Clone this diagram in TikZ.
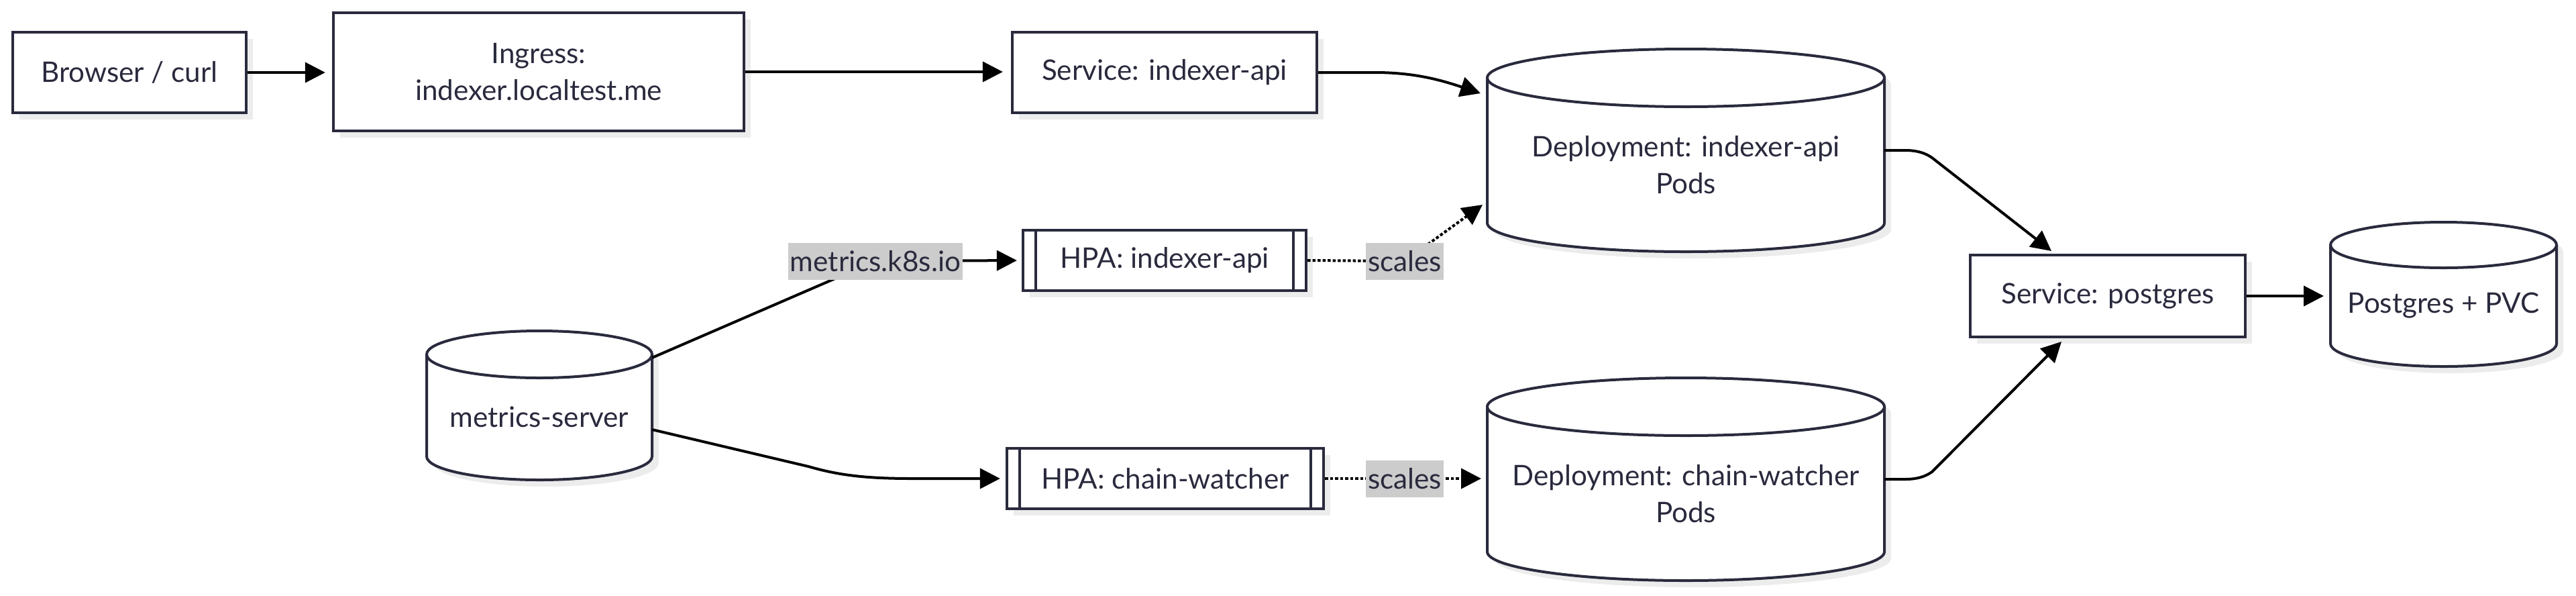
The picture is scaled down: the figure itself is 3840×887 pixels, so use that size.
\documentclass[tikz,border=0pt]{standalone}
\usepackage{fontspec}
\setmainfont{Lato}
\usetikzlibrary{arrows.meta,shadows,calc}
\definecolor{bordc}{RGB}{42,42,62}
\definecolor{txtc}{RGB}{42,42,62}
\definecolor{shadc}{RGB}{236,236,236}
\definecolor{labc}{RGB}{204,204,204}
\newcommand\fsz{\fontsize{12}{15.6}\selectfont}
\tikzset{
 shad/.style={drop shadow={shadow xshift=0.1cm,shadow yshift=-0.1cm,fill=shadc,opacity=1}},
 box/.style={draw=bordc,line width=0.04cm,fill=white,shad,text=txtc,font=\fsz,align=center,inner sep=0pt},
 cylbody/.style={draw=bordc,line width=0.04cm,fill=white,shad},
 cylline/.style={draw=bordc,line width=0.04cm},
 cyltext/.style={text=txtc,font=\fsz,align=center,inner sep=0pt},
 anch/.style={draw=none,inner sep=0pt,outer sep=0pt},
 elabel/.style={fill=labc,text=txtc,font=\fsz,inner xsep=0.03cm,inner ysep=0pt,minimum height=0.55cm},
 flow/.style={draw=black,line width=0.04cm,-{Triangle[length=0.3cm,width=0.3cm]}},
 dotflow/.style={flow,dash pattern=on 0.045cm off 0.03cm},
}
% #1 name, #2 left, #3 top, #4 right, #5 bottom, #6 ry, #7 text
\newcommand\dbcyl[7]{%
 \pgfmathsetmacro\cylcx{(#2+#4)/2}%
 \pgfmathsetmacro\cylrx{(#4-#2)/2}%
 \pgfmathsetmacro\cylcy{(#3+#5)/2}%
 \pgfmathsetmacro\cylw{(#4-#2)*0.01}%
 \pgfmathsetmacro\cylh{(#5-#3)*0.01}%
 \path[cylbody] (#2,#3+#6) -- (#2,#5-#6) arc[start angle=180,end angle=0,x radius=\cylrx,y radius=#6] -- (#4,#3+#6) arc[start angle=0,end angle=-180,x radius=\cylrx,y radius=#6] -- cycle;
 \draw[cylline] (#2,#3+#6) arc[start angle=180,end angle=0,x radius=\cylrx,y radius=#6];
 \node[anch,minimum width=\cylw cm,minimum height=\cylh cm] (#1) at (\cylcx,\cylcy) {};
 \node[cyltext] (#1-t) at (\cylcx,\cylcy+#6/2) {#7};
}
\begin{document}
\begin{tikzpicture}[x=0.01cm,y=-0.01cm]
\useasboundingbox (0,0) rectangle (3840,887);
% boxes
\node[box,minimum width=3.48cm,minimum height=1.2cm] (browser) at (193,108) {Browser / curl};
\node[box,minimum width=6.12cm,minimum height=1.76cm] (ingress) at (803,107) {Ingress:\\indexer.localtest.me};
\node[box,minimum width=4.54cm,minimum height=1.19cm] (svc1) at (1736,108) {Service: indexer-api};
\node[box,minimum width=4.22cm,minimum height=0.9cm] (hpa1) at (1736,388) {HPA: indexer-api};
\node[box,minimum width=4.72cm,minimum height=0.9cm] (hpa2) at (1737,713) {HPA: chain-watcher};
\node[box,minimum width=4.10cm,minimum height=1.22cm] (svcpg) at (3142,441) {Service: postgres};
\draw[cylline] ([xshift=0.21cm]hpa1.north west) -- ([xshift=0.21cm]hpa1.south west);
\draw[cylline] ([xshift=-0.21cm]hpa1.north east) -- ([xshift=-0.21cm]hpa1.south east);
\draw[cylline] ([xshift=0.21cm]hpa2.north west) -- ([xshift=0.21cm]hpa2.south west);
\draw[cylline] ([xshift=-0.21cm]hpa2.north east) -- ([xshift=-0.21cm]hpa2.south east);
% cylinders
\dbcyl{ms}{636}{493}{972}{715}{35}{metrics-server}
\dbcyl{dep1}{2217}{73}{2809}{375}{43}{Deployment: indexer-api\\Pods}
\dbcyl{dep2}{2217}{563}{2809}{865}{43}{Deployment: chain-watcher\\Pods}
\dbcyl{pvc}{3474}{331}{3811}{546}{34}{Postgres + PVC}
% connector points
\coordinate (l1) at (1305,389);
\coordinate (l2) at (2094,389);
\coordinate (l3) at (2094,713);
\coordinate (ms-o1) at (972,533);
\coordinate (ms-o2) at (972,640);
\coordinate (d1-in1) at (2207,139);
\coordinate (d1-in2) at (2210,305);
\coordinate (pg-in1) at (3058,374);
\coordinate (pg-in2) at (3073,509);
% connectors
\draw[flow,shorten >=0.1cm] (browser.east) -- (browser.east -| ingress.west);
\draw[flow,shorten >=0.12cm] (ingress.east) -- (ingress.east -| svc1.west);
\draw[flow] (svc1.east) -- (2050,108) .. controls (2110,108) and (2150,120) .. (d1-in1);
\draw[flow,shorten >=0.07cm] (ms-o1) -- (l1) -- (hpa1.west);
\draw[flow,shorten >=0.08cm] (ms-o2) -- (1205,695) .. controls (1250,708) and (1290,713) .. (1360,713) -- (hpa2.west);
\draw[dotflow] (hpa1.east) -- (l2) -- (d1-in2);
\draw[dotflow,shorten >=0.09cm] (hpa2.east) -- (l3) -- (hpa2.east -| dep2.west);
\draw[flow] (dep1.east) -- (2840,224) .. controls (2858,224) and (2870,228) .. (2880,235) -- (pg-in1);
\draw[flow] (dep2.east) -- (2840,714) .. controls (2858,714) and (2870,710) .. (2880,703) -- (pg-in2);
\draw[flow,shorten >=0.1cm] (svcpg.east) -- (svcpg.east -| pvc.west);
% edge labels
\node[elabel] (lab1) at (l1) {metrics.k8s.io};
\node[elabel] (lab2) at (l2) {scales};
\node[elabel] (lab3) at (l3) {scales};
\end{tikzpicture}
\end{document}
